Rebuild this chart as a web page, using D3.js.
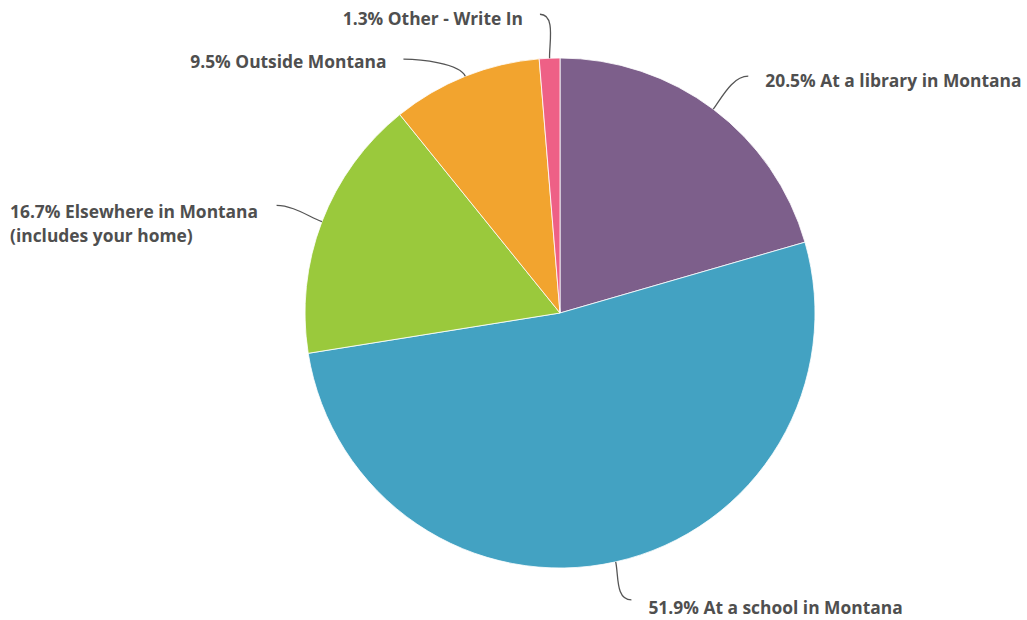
<!DOCTYPE html>
<html><head><meta charset="utf-8">
<script src="https://cdn.jsdelivr.net/npm/d3@7"></script>
<style>body{margin:0;background:#fff}svg{display:block}</style>
</head><body>
<script>
const categories = ["At a library in Montana","At a school in Montana","Elsewhere in Montana\n(includes your home)","Outside Montana","Other - Write In"];
const values = [20.5, 51.9, 16.7, 9.5, 1.3];
const colors = ["#7d5f8b","#43a2c2","#9ac93c","#f2a42f","#ee6086"];

const W=1027,H=620, cx=560, cy=313, R=255;
const svg=d3.select("body").append("svg").attr("width",W).attr("height",H);
const g=svg.append("g").attr("transform",`translate(${cx},${cy})`);
const pie=d3.pie().sort(null).value(d=>d.v);
const data=pie(values.map((v,i)=>({v,c:categories[i],col:colors[i]})));
const arc=d3.arc().innerRadius(0).outerRadius(R);
g.selectAll("path.s").data(data).join("path").attr("class","s")
 .attr("d",arc).attr("fill",d=>d.data.col).attr("stroke","#fff").attr("stroke-width",0.8);

// label layout: [radial extension, extra dx, extra dy, text dy]
const layout=[[45,8,3,4],[40,7,-1,7],[40,-8,-2,6],[40,-47,20,2],[40,-8,-4,4]];
data.forEach((d,i)=>{
  const a=(d.startAngle+d.endAngle)/2;
  const sx=Math.sin(a), sy=-Math.cos(a);
  const p0=[R*sx,R*sy];
  const [L,ex,ey,tdy]=layout[i];
  const p2=[(R+L)*sx+ex,(R+L)*sy+ey];
  const dir = sx>0?1:-1;
  const c1=[(R+14)*sx,(R+14)*sy];
  const c2=[p2[0]-dir*16,p2[1]];
  g.append("path").attr("d",`M${p0}C${c1} ${c2} ${p2}`).attr("fill","none")
   .attr("stroke","#555").attr("stroke-width",1.3);
  const parts=(values[i].toFixed(1)+"% "+categories[i]).split("\n");
  const multi=parts.length>1;
  const tx=multi?-cx+10:p2[0]+dir*17;
  const t=g.append("text").attr("y",p2[1]+tdy)
   .attr("dominant-baseline","central")
   .attr("text-anchor",(dir>0||multi)?"start":"end")
   .attr("font-family","'Open Sans', sans-serif").attr("font-weight","bold")
   .attr("font-size",17.4).attr("fill","#4f4f4f");
  parts.forEach((p,j)=>t.append("tspan").attr("x",tx).attr("dy",j?24:0).text(p));
});
</script>
</body></html>
